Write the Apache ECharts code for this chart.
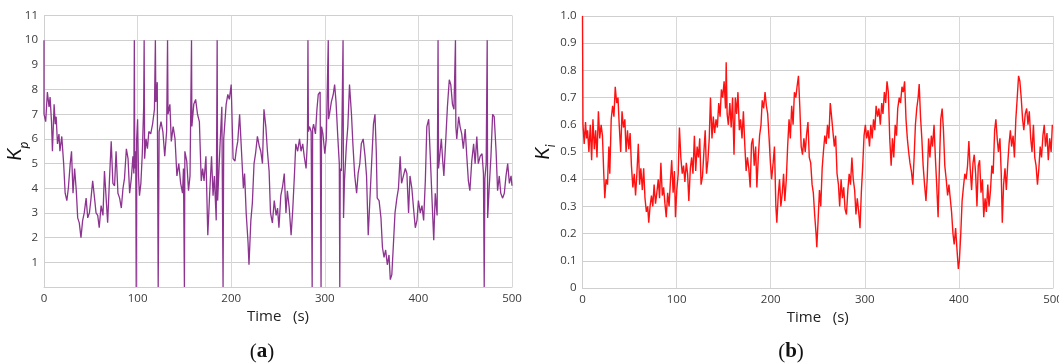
<!DOCTYPE html>
<html>
<head>
<meta charset="utf-8">
<script src="https://cdn.jsdelivr.net/npm/echarts@6/dist/echarts.min.js"></script>
<style>
html,body{margin:0;padding:0;background:#fff;}
#c{width:1059px;height:363px;}
</style>
</head>
<body>
<div id="c"></div>
<script>
// ---- Data (a): Kp vs time ----
const kpTime = [0,0,1.8,3.6,5.4,6.5,8,9,10.8,12,13,14.4,16,17,19,21,22.6,24.4,26,28,29.4,31,32.7,34.5,36,37.7,39.5,41.3,43,45,46.7,48.5,50,52,54,55.6,57.4,59,61,63,64.6,66.4,68,70,71.8,73.6,75.4,77,79,80.8,82.6,84.4,86,88,89.8,91.5,93.3,95,96,96.5,97,98,98.5,99,100,101,102,103.5,105,106.5,107,107.5,109,110.5,112,114,116,118,119,119.5,121,122,123,125,127,129,131,132,132.5,134.5,136,138,140,142,144,146,148,149,150,150.5,152.5,154.4,156,157.6,158,160,162,164,166,168,169.5,171,173,175,177,179,180.6,182,184,185,185.5,188,190,191.3,192,194.6,196.4,198,200,202,204,205.6,207,209,211,213,214.3,216,218,219,221,222.6,224.4,226,228,230,231.6,233.4,235,237,238.7,240.5,242,244,246,248,249.5,251,253,255,256.7,258.5,260,262,264,265.7,267.5,269,271,273,274.6,276.4,278,280,281.5,282,282.5,283.6,285.4,286.5,287,288,290,291.6,293,295,296,296.5,298,300,301.6,303.7,304,305,307,309,310.5,312,314,315.5,316,316.5,317.7,319.5,320,321,323,324.6,326.4,328.5,330,332,334,335.6,337.4,339,341,343,344.6,346.4,348,350,352,353.6,355,356,358,360,361.6,363.3,365,366.8,368.6,370,371.6,373.4,375,377,378.7,380.5,382,384,386,387.7,389.5,391,393,395,396.7,398.5,400,402,403.8,405.6,407.4,409,411,413,414.6,416.4,418,420,421,421.5,423,424.5,426,427.2,429,431,433,434.6,436.4,438,439.6,440,441,443,444.5,446.3,448,450,451.7,453.4,455,457,459,460.6,462.4,464,466,468,469.5,470.3,471,472.4,473.5,474,475.6,477.5,479.3,481,483,484.6,486.4,488,490,491.8,493.6,495.4,497.2,499,500];
const kpValue = [10,7.0,6.7,7.9,7.3,7.7,6.7,5.5,7.4,6.6,6.9,5.8,6.2,5.5,6.1,5.0,3.8,3.5,4.0,5.0,5.5,3.8,4.8,3.9,2.8,2.6,2.0,2.7,3.0,3.6,2.8,3.0,3.5,4.3,3.6,3.0,2.9,2.4,3.3,2.9,4.7,3.6,2.6,4.4,5.9,4.2,4.1,5.5,3.8,3.6,3.2,4.0,4.4,5.6,5.2,3.8,4.4,5.3,4.6,10,4.8,5.5,0,6.0,6.8,4.5,3.7,4.2,5.4,7.3,10,5.2,6.0,5.6,6.3,6.2,6.6,7.2,10,7.5,8.3,0,6.3,6.7,6.3,5.3,6.3,10,7.0,7.4,5.9,6.5,6.0,4.5,5.0,4.2,3.8,4.8,0,5.5,5.1,3.9,4.5,10,6.5,7.4,7.6,7.0,6.7,4.3,4.8,4.3,5.3,2.1,3.8,5.3,3.7,4.5,2.7,10,3.5,5.7,7.3,0,6.0,7.4,7.8,7.6,8.2,5.2,5.1,5.6,5.9,7.0,5.5,4.0,4.6,3.0,1.8,0.9,2.7,3.4,5.0,5.4,6.1,5.7,5.5,5.0,7.2,6.5,5.5,4.7,3.0,2.6,3.5,2.9,3.2,2.4,3.7,4.1,4.6,3.0,3.9,3.2,2.1,3.1,4.5,5.8,5.5,6.0,5.5,5.8,5.3,4.8,6.0,10,6.3,6.5,6.3,0,6.4,6.6,6.2,7.2,7.8,7.9,0,6.5,6.2,5.4,6.0,10,6.8,7.0,7.5,7.8,8.2,7.5,6.0,5.0,0,4.8,4.7,10,2.8,4.3,5.7,6.5,8.2,7.0,5.8,4.5,3.8,4.6,5.0,5.8,6.0,5.3,4.5,2.1,3.4,5.0,6.6,7.0,5.5,3.6,3.5,2.8,1.6,1.2,1.5,0.9,1.3,0.3,0.5,1.8,3.0,3.6,4.0,5.3,4.2,4.5,4.8,4.6,3.0,4.5,4.0,3.1,2.4,2.7,3.5,3.0,3.3,2.7,4.3,6.5,6.8,5.0,3.5,1.9,3.8,2.9,10,4.8,5.4,6.0,5.1,4.5,5.8,7.3,8.4,8.2,7.4,7.2,10,6.5,6.0,6.9,6.5,6.2,5.6,6.4,5.3,4.3,3.9,5.1,5.8,5.0,6.1,5.0,5.3,5.4,4.6,0,4.4,5.0,10,2.8,4.0,5.3,7.0,6.9,5.5,3.9,4.5,3.8,3.6,3.8,4.5,5.0,4.2,4.5,4.1];

// ---- Data (b): Ki vs time ----
const kiTime = [0,0.5,1.8,3.2,4.3,5.4,6.8,8.3,9.7,11.1,12.6,14,15.4,16.9,18.3,19.8,21.2,22.6,23.7,25,26.6,28,29,30.5,32,33.4,34.8,36.3,37.7,39,40.6,42,43.5,45,46.3,47.8,49.2,50.6,52,53.5,55,56.4,57.8,59.3,60.7,62,63.6,65,66.4,67.9,69.3,70.4,71.8,73.3,74.7,76.1,77.6,79,80.5,81.9,83.3,84.8,86.2,87.6,89,90.5,92,93.4,94.8,96.3,97.7,98.8,100.2,101.7,103,104.5,106,107.4,108.8,110.3,111.7,113,114.6,116,117.4,118.9,120.3,121.8,123.2,124.6,126,127.5,129,130.4,131.8,133.3,134.7,136,137.6,139,140.4,141.9,143.3,144.8,146.2,147.6,149,150.5,152,152.7,153.7,155,156.6,158,159.5,161,162.4,163.8,165.2,166.7,168,169.5,171,172.4,173.9,175.3,176.7,178.2,179.6,181,182.5,184,185.3,186.8,188.2,189.7,191,192.5,194,195.4,196.8,198.3,199.7,201,202.6,204,205.5,206.5,208,209.4,210.8,212.3,213.7,215,216.6,218,219.5,220.9,222.3,223.8,225.2,226.7,228,229.5,231,232.4,233.8,235.3,236.7,238,239.6,241,242.5,244,245.3,246.7,248.2,249,250.4,251.8,253.2,254.7,256,257.5,259,260.4,261.8,263.3,264.7,266,267.6,269,270.5,272,273.3,274.8,276.2,277.6,279,280.5,282,283.4,284.8,286.3,287.7,289.2,290.6,292,293.5,294.9,296.3,297.8,299.2,300.6,302,303.5,305,306.4,307.8,309.3,310.7,312,313.6,315,316.5,318,319.3,320.8,322.2,323.6,325,326.5,328,329.4,330.8,332.3,333.7,335,336.6,338,339.5,340.9,342.3,343.8,345.2,346.6,348,349.5,351,352.4,353.8,355.2,356.7,357.8,359.2,360.6,362,363.5,365,366.3,367.8,369.2,370.7,372,373.6,375,376.4,377.9,379.3,380.7,382.2,383.6,385,386.5,388,389.4,390.8,392.2,393.7,395,396.5,398,399.4,400.5,402,403.4,404.8,406.3,407.7,409.2,410.6,412,413.5,415,416.3,417.8,419.2,420.6,422,423.5,425,426.4,427.8,429.2,430.7,432,433.6,435,436.4,438,439.3,440.7,442,443.6,445,446.1,447.5,449,450.4,451.8,453.3,454.7,456,457.6,459,460.5,462,463.4,464.8,466.2,467.7,469,470.5,472,473.4,474.8,476.3,477.7,479.2,480.6,482,483.5,485,486.4,487.8,489.3,490.7,492,493.6,495,496.5,498,499.3];
const kiValue = [1.0,0.60,0.53,0.61,0.55,0.58,0.50,0.60,0.47,0.62,0.51,0.58,0.48,0.65,0.55,0.60,0.56,0.42,0.33,0.40,0.38,0.52,0.42,0.62,0.67,0.63,0.74,0.68,0.70,0.60,0.50,0.65,0.59,0.62,0.50,0.58,0.51,0.57,0.45,0.37,0.42,0.34,0.42,0.53,0.38,0.44,0.36,0.44,0.33,0.28,0.30,0.24,0.30,0.34,0.30,0.38,0.31,0.35,0.40,0.33,0.46,0.34,0.37,0.31,0.26,0.35,0.30,0.39,0.47,0.35,0.43,0.26,0.36,0.42,0.59,0.48,0.42,0.45,0.39,0.46,0.42,0.32,0.44,0.48,0.42,0.56,0.43,0.52,0.48,0.55,0.38,0.41,0.50,0.58,0.42,0.47,0.55,0.70,0.55,0.63,0.57,0.62,0.59,0.68,0.63,0.73,0.70,0.76,0.66,0.83,0.64,0.60,0.68,0.59,0.70,0.49,0.70,0.64,0.72,0.58,0.62,0.55,0.65,0.53,0.43,0.48,0.44,0.37,0.53,0.55,0.45,0.52,0.37,0.48,0.56,0.60,0.69,0.66,0.72,0.67,0.64,0.55,0.46,0.40,0.46,0.52,0.30,0.24,0.34,0.40,0.30,0.35,0.42,0.32,0.40,0.52,0.62,0.55,0.67,0.60,0.72,0.70,0.74,0.78,0.66,0.52,0.49,0.55,0.50,0.56,0.61,0.48,0.46,0.38,0.35,0.27,0.20,0.15,0.25,0.36,0.30,0.44,0.50,0.56,0.53,0.60,0.55,0.68,0.63,0.58,0.52,0.56,0.42,0.38,0.30,0.40,0.33,0.37,0.29,0.27,0.36,0.42,0.38,0.48,0.40,0.36,0.27,0.33,0.28,0.22,0.35,0.45,0.56,0.60,0.55,0.58,0.52,0.60,0.55,0.62,0.58,0.67,0.63,0.66,0.60,0.68,0.64,0.72,0.68,0.76,0.72,0.55,0.45,0.55,0.48,0.60,0.56,0.66,0.70,0.68,0.74,0.72,0.76,0.62,0.55,0.50,0.46,0.43,0.38,0.48,0.60,0.66,0.70,0.75,0.63,0.55,0.45,0.38,0.32,0.40,0.55,0.48,0.56,0.52,0.60,0.48,0.38,0.26,0.45,0.62,0.66,0.58,0.45,0.40,0.34,0.38,0.33,0.28,0.20,0.16,0.22,0.14,0.07,0.10,0.20,0.32,0.37,0.42,0.40,0.45,0.54,0.44,0.36,0.46,0.49,0.42,0.30,0.45,0.47,0.35,0.40,0.26,0.33,0.28,0.38,0.30,0.36,0.45,0.42,0.58,0.62,0.55,0.50,0.55,0.42,0.24,0.38,0.44,0.36,0.45,0.53,0.58,0.52,0.56,0.48,0.62,0.70,0.78,0.76,0.70,0.62,0.58,0.64,0.66,0.60,0.65,0.55,0.50,0.60,0.48,0.45,0.38,0.44,0.52,0.48,0.56,0.60,0.52,0.57,0.47,0.55,0.50,0.60];

// ---- Axis ticks ----
const xTicks = [0, 100, 200, 300, 400, 500];
const kpTicks = [1,2,3,4,5,6,7,8,9,10,11];
const kiTicks = [0,0.1,0.2,0.3,0.4,0.5,0.6,0.7,0.8,0.9,1.0];
const xTitle = 'Time   (s)';

const zip = (a, b) => a.map((t, i) => [t, b[i]]);

const chart = echarts.init(document.getElementById('c'), null, {renderer: 'canvas'});
const labelFont = {color: '#3a3a3a', fontSize: 11.5, fontFamily: 'Open Sans'};
const gridColorH = '#cfcfcf';
const gridColorV = '#d8d8d8';

function xAxisCfg(gi) {
  return {
    type: 'value', gridIndex: gi, min: xTicks[0], max: xTicks[xTicks.length - 1], interval: xTicks[1] - xTicks[0],
    name: xTitle, nameLocation: 'middle', nameGap: 30, nameMoveOverlap: false,
    nameTextStyle: {fontSize: 15, color: '#222', fontFamily: 'Open Sans', verticalAlign: 'middle'},
    axisLine: {show: true, lineStyle: {color: '#cfcfcf', width: 1}},
    axisTick: {show: false},
    axisLabel: Object.assign({margin: 6, hideOverlap: false}, labelFont),
    splitLine: {show: true, lineStyle: {color: gridColorV, width: 1}}
  };
}

const nameRich = {
  k: {fontSize: 20, fontStyle: 'italic', fontFamily: 'Lato', color: '#111', lineHeight: 30},
  s: {fontSize: 13, fontStyle: 'italic', fontFamily: 'Lato', color: '#111', verticalAlign: 'bottom'}
};

const option = {
  animation: false,
  backgroundColor: '#fff',
  grid: [
    {left: 44, right: 547, top: 15.5, bottom: 76, outerBoundsMode: 'none', containLabel: false},
    {left: 582.5, right: 6, top: 16, bottom: 75, outerBoundsMode: 'none', containLabel: false}
  ],
  xAxis: [xAxisCfg(0), xAxisCfg(1)],
  yAxis: [
    {
      type: 'value', gridIndex: 0, min: 0, max: kpTicks[kpTicks.length - 1], interval: 1,
      name: '{k|K}{s|p}', nameLocation: 'middle', nameRotate: 90, nameGap: 14, nameMoveOverlap: false,
      nameTextStyle: {rich: nameRich},
      axisLine: {show: true, lineStyle: {color: '#cfcfcf'}},
      axisTick: {show: false},
      axisLabel: Object.assign({margin: 6, formatter: v => (kpTicks.indexOf(v) >= 0 ? String(v) : '')}, labelFont),
      splitLine: {show: true, lineStyle: {color: gridColorH, width: 1}}
    },
    {
      type: 'value', gridIndex: 1, min: 0, max: 1, interval: 0.1,
      name: '{k|K}{s|i}', nameLocation: 'middle', nameRotate: 90, nameGap: 25, nameMoveOverlap: false,
      nameTextStyle: {rich: nameRich},
      axisLine: {show: true, lineStyle: {color: '#cfcfcf'}},
      axisTick: {show: false},
      axisLabel: Object.assign({margin: 6, formatter: v => {
        const r = Math.round(v * 10) / 10;
        return r === 0 ? '0' : r.toFixed(1);
      }}, labelFont),
      splitLine: {show: true, lineStyle: {color: gridColorH, width: 1}}
    }
  ],
  series: [
    {
      type: 'line', xAxisIndex: 0, yAxisIndex: 0, data: zip(kpTime, kpValue),
      showSymbol: false, symbol: 'none', clip: true,
      lineStyle: {color: '#8d3390', width: 1.3}
    },
    {
      type: 'line', xAxisIndex: 1, yAxisIndex: 1, data: zip(kiTime, kiValue),
      showSymbol: false, symbol: 'none', clip: true,
      lineStyle: {color: '#ff1111', width: 1.4}
    }
  ],
  graphic: [
    {type: 'text', x: 262, y: 352, style: {
      text: '{p|(}{b|a}{p|)}', align: 'center', verticalAlign: 'middle',
      rich: {p: {fontSize: 21, fontFamily: 'Liberation Serif', fill: '#111'}, b: {fontSize: 21, fontWeight: 'bold', fontFamily: 'Liberation Serif', fill: '#111'}}
    }},
    {type: 'text', x: 791, y: 352, style: {
      text: '{p|(}{b|b}{p|)}', align: 'center', verticalAlign: 'middle',
      rich: {p: {fontSize: 21, fontFamily: 'Liberation Serif', fill: '#111'}, b: {fontSize: 21, fontWeight: 'bold', fontFamily: 'Liberation Serif', fill: '#111'}}
    }}
  ]
};
chart.setOption(option);
</script>
</body>
</html>
